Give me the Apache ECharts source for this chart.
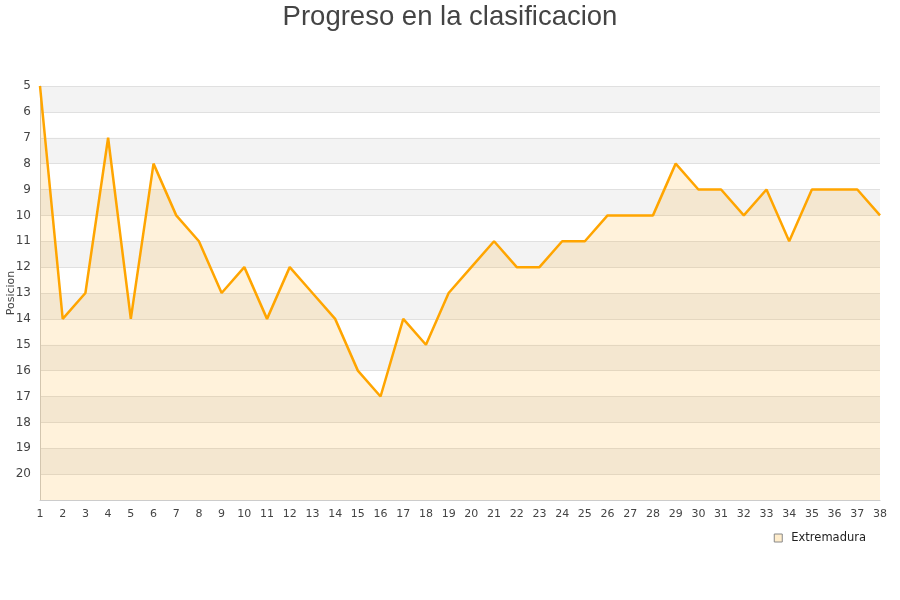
<!DOCTYPE html>
<html>
<head>
<meta charset="utf-8">
<script src="https://cdn.jsdelivr.net/npm/echarts@6/dist/echarts.min.js"></script>
<style>
  html, body { margin: 0; padding: 0; background: #fff; }
  #chart { width: 900px; height: 600px; }
</style>
</head>
<body>
<div id="chart"></div>
<script>
const jornadas = ['1', '2', '3', '4', '5', '6', '7', '8', '9', '10', '11', '12', '13', '14', '15', '16', '17', '18', '19',
  '20', '21', '22', '23', '24', '25', '26', '27', '28', '29', '30', '31', '32', '33', '34', '35', '36', '37', '38']
const posiciones = [5, 14, 13, 7, 14, 8, 10, 11, 13, 12, 14, 12, 13, 14, 16, 17, 14, 15, 13, 12,
  11, 12, 12, 11, 11, 10, 10, 10, 8, 9, 9, 10, 9, 11, 9, 9, 9, 10]
const equipo = 'Extremadura'

const chart = echarts.init(document.getElementById('chart'))
chart.setOption({
  animation: false,
  title: {
    text: 'Progreso en la clasificacion',
    left: 'center',
    top: -2,
    textStyle: {
      fontFamily: 'Liberation Sans',
      fontSize: 27.5,
      fontWeight: 'normal',
      color: '#444'
    }
  },
  legend: {
    right: 29,
    top: 527,
    itemWidth: 8,
    itemHeight: 8,
    icon: 'rect',
    textStyle: { fontFamily: 'DejaVu Sans', fontSize: 11.5, color: '#222', padding: [0, 0, 0, 4] },
    data: [{
      name: equipo,
      itemStyle: { color: '#ffedcc', borderColor: '#888', borderWidth: 1 }
    }]
  },
  grid: { left: 40, right: 20, top: 86, bottom: 100, outerBoundsMode: 'none', containLabel: false },
  xAxis: {
    type: 'category',
    data: jornadas,
    boundaryGap: false,
    axisLine: { lineStyle: { color: '#ccc' } },
    axisTick: { show: false },
    axisLabel: {
      fontFamily: 'DejaVu Sans',
      fontSize: 11,
      color: '#444',
      interval: 0,
      margin: 9
    }
  },
  yAxis: {
    type: 'value',
    inverse: true,
    min: 5,
    max: 21,
    interval: 1,
    name: 'Posicion',
    nameLocation: 'middle',
    nameGap: 23,
    nameMoveOverlap: false,
    nameRotate: 90,
    nameTextStyle: { fontFamily: 'DejaVu Sans', fontSize: 11, color: '#444' },
    axisLine: { show: true, lineStyle: { color: '#ccc' } },
    axisTick: { show: false },
    axisLabel: {
      fontFamily: 'DejaVu Sans',
      fontSize: 12,
      color: '#444',
      margin: 9,
      formatter: v => (v === 21 ? '' : v)
    },
    splitLine: { show: true, lineStyle: { color: '#e0e0e0' } },
    splitArea: { show: true, areaStyle: { color: ['#f3f3f3', '#ffffff'] } }
  },
  series: [{
    name: equipo,
    type: 'line',
    data: posiciones,
    symbol: 'none',
    lineStyle: { color: '#ffa500', width: 2.5 },
    itemStyle: { color: '#ffa500' },
    areaStyle: { color: 'rgba(255,165,0,0.2)', origin: 'end' }
  }]
})
</script>
</body>
</html>
